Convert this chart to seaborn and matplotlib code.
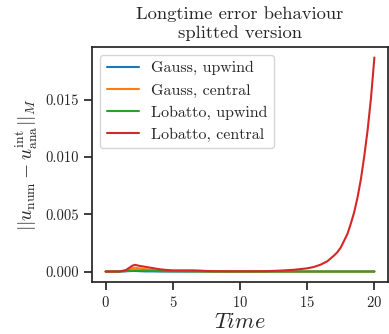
import numpy as np
import pandas as pd
import matplotlib
matplotlib.use("Agg")
import matplotlib.pyplot as plt
import seaborn as sns

time = [0, 0.5, 1, 1.5, 2, 2.2, 2.5, 3, 3.5, 4, 4.5, 5, 5.5, 6, 6.5, 7, 7.5, 8, 9, 10,
        11, 12, 13, 14, 15, 15.5, 16, 16.5, 17, 17.25, 17.5, 17.75, 18, 18.25, 18.5, 18.75,
        19, 19.25, 19.5, 19.75, 20]
gauss_upwind = [0, 0, 0, 0.00002, 0.00005, 0.00005, 0.00003, 0.00001, 0.00001, 0, 0, 0, 0, 0,
                0, 0, 0, 0, 0, 0, 0, 0, 0, 0, 0, 0, 0, 0, 0, 0, 0, 0, 0, 0, 0, 0, 0, 0, 0, 0, 0]
gauss_central = [0, 0, 0, 0.00008, 0.0003, 0.00033, 0.00028, 0.0002, 0.00013, 0.00008, 0.00005,
                 0.00004, 0.00004, 0.00004, 0.00003, 0.00002, 0.00001, 0.00001, 0, 0, 0, 0, 0,
                 0, 0, 0, 0, 0, 0, 0, 0, 0, 0, 0, 0, 0, 0, 0, 0, 0, 0]
lobatto_upwind = [0, 0, 0, 0.00004, 0.0001, 0.00011, 0.0001, 0.00008, 0.00006, 0.00004, 0.00003,
                  0.00002, 0.00002, 0.00001, 0.00001, 0.00001, 0, 0, 0, 0, 0, 0, 0, 0, 0, 0,
                  0, 0, 0, 0, 0, 0, 0, 0, 0, 0, 0, 0, 0, 0, 0]
lobatto_central = [0, 0, 0, 0.00012, 0.00052, 0.00058, 0.0005, 0.0004, 0.0003, 0.0002, 0.00014,
                   0.0001, 0.0001, 0.0001, 0.0001, 0.00008, 0.00005, 0.00003, 0.00002, 0.00002,
                   0.00002, 0.00003, 0.00008, 0.00015, 0.00028, 0.0004, 0.0006, 0.0009, 0.0014,
                   0.0017, 0.0021, 0.0027, 0.0033, 0.0042, 0.0052, 0.0065, 0.0081, 0.0101,
                   0.0124, 0.0152, 0.0187]
labels = ["Gauss, upwind", "Gauss, central", "Lobatto, upwind", "Lobatto, central"]

frames = []
for lab, vals in zip(labels, [gauss_upwind, gauss_central, lobatto_upwind, lobatto_central]):
    frames.append(pd.DataFrame({"Time": time, "err": vals, "method": lab}))
df = pd.concat(frames, ignore_index=True)

sns.set_theme(style="ticks")
plt.rcParams["font.family"] = ["serif"]
plt.rcParams["font.serif"] = ["cmr10", "DejaVu Serif"]
plt.rcParams["mathtext.fontset"] = "cm"
plt.rcParams["axes.formatter.use_mathtext"] = True
plt.rcParams["axes.unicode_minus"] = False

fig, ax = plt.subplots(figsize=(3.89, 3.34), dpi=100)
sns.lineplot(data=df, x="Time", y="err", hue="method", hue_order=labels,
             palette=["#1f77b4", "#ff7f0e", "#2ca02c", "#d62728"], linewidth=1.5, ax=ax)

ax.set_title("Longtime error behaviour\nsplitted version", fontsize=13.4, linespacing=1.25)
ax.set_xlabel(r"$Time$", fontsize=16, labelpad=1)
ax.set_ylabel(r"$||u_{\mathrm{num}} - u_{\mathrm{ana}}^{\mathrm{int}}||_M$", fontsize=14)
ax.set_xticks([0, 5, 10, 15, 20])
ax.set_yticks([0.0, 0.005, 0.010, 0.015])
ax.set_yticklabels(["0.000", "0.005", "0.010", "0.015"])
ax.tick_params(labelsize=10.5)
leg = ax.legend(loc="upper left", fontsize=11.5, title=None)

fig.subplots_adjust(left=0.237, right=0.997, top=0.86, bottom=0.155)
fig.savefig("out.png", dpi=100)
